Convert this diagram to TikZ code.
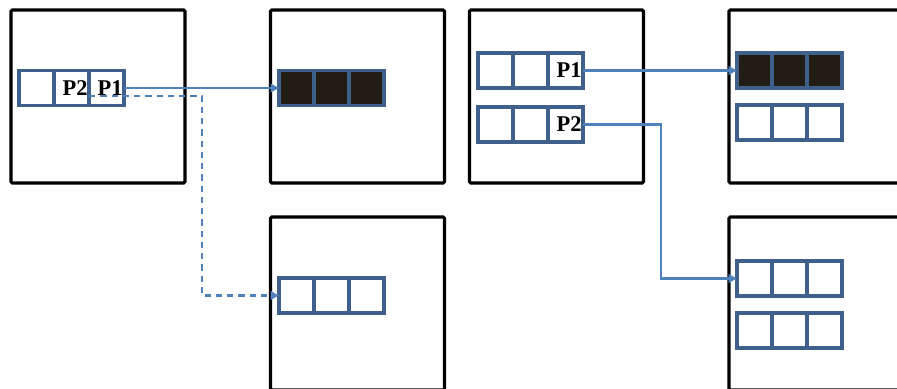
\documentclass[tikz,border=0pt]{standalone}
\usepackage{fontspec}
\setmainfont{Liberation Serif}
\usetikzlibrary{arrows.meta, positioning}

\definecolor{cellblue}{RGB}{64,96,140}
\definecolor{linkblue}{RGB}{79,129,189}
\definecolor{usedfill}{RGB}{33,29,20}

\begin{document}
\begin{tikzpicture}[
  x=0.025cm, y=-0.025cm,
  frame/.style={rectangle, draw=black, line width=2.2pt, rounded corners=1pt, minimum width=4.35cm, minimum height=4.325cm, inner sep=0pt},
  cell/.style={rectangle, draw=cellblue, line width=2.4pt, minimum width=0.875cm, minimum height=0.875cm, inner sep=0pt, outer sep=0pt},
  used/.style={cell, fill=usedfill},
  tagged/.style={cell, text width=0.8cm, align=right, font=\fontsize{16}{16}\selectfont\bfseries},
  link/.style={-{Triangle[length=6pt, width=6pt]}, draw=linkblue, line width=1.5pt},
  spare/.style={link, dash pattern=on 4.5pt off 3.5pt}
]
\useasboundingbox (0,0) rectangle (897,389);
\clip (0,0) rectangle (897,389);

% frames
\node[frame] (src)   at (98,96.5) {};
\node[frame] (dstA)  at (357.5,96.5) {};
\node[frame] (dstAb) at (357.5,303.5) {};
\node[frame] (srcB)  at (556.5,96.5) {};
\node[frame] (dstB)  at (816,96.5) {};
\node[frame] (dstBb) at (816,303.5) {};

% first source: one row
\node[cell] (A1) at (36.5,88) {};
\node[tagged, right=0pt of A1] (A2) {P2};
\node[tagged, right=0pt of A2] (A3) {P1};

% first targets
\node[used] (B1) at (296.5,88) {};
\node[used, right=0pt of B1] (B2) {};
\node[used, right=0pt of B2] (B3) {};
\node[cell] (C1) at (296.5,295.5) {};
\node[cell, right=0pt of C1] (C2) {};
\node[cell, right=0pt of C2] (C3) {};

% second source: two rows
\node[cell] (D1) at (495.5,70.5) {};
\node[cell, right=0pt of D1] (D2) {};
\node[tagged, right=0pt of D2] (D3) {P1};
\node[cell] (E1) at (495.5,124.5) {};
\node[cell, right=0pt of E1] (E2) {};
\node[tagged, right=0pt of E2] (E3) {P2};

% second targets
\node[used] (F1) at (754.5,70.5) {};
\node[used, right=0pt of F1] (F2) {};
\node[used, right=0pt of F2] (F3) {};
\node[cell] (K1) at (754.5,122.5) {};
\node[cell, right=0pt of K1] (K2) {};
\node[cell, right=0pt of K2] (K3) {};
\node[cell] (G1) at (754.5,278.5) {};
\node[cell, right=0pt of G1] (G2) {};
\node[cell, right=0pt of G2] (G3) {};
\node[cell] (H1) at (754.5,330.5) {};
\node[cell, right=0pt of H1] (H2) {};
\node[cell, right=0pt of H2] (H3) {};

% links
\coordinate (bendA) at (202,200);
\coordinate (bendB) at (661,200);
\draw[link] (A3.east) -- (B1.west);
\draw[spare] ([yshift=-0.2cm]A3.west) -| (bendA) |- (C1.west);
\draw[link] (D3.east) -- (F1.west);
\draw[link] (E3.east) -| (bendB) |- (G1.west);
\end{tikzpicture}
\end{document}
